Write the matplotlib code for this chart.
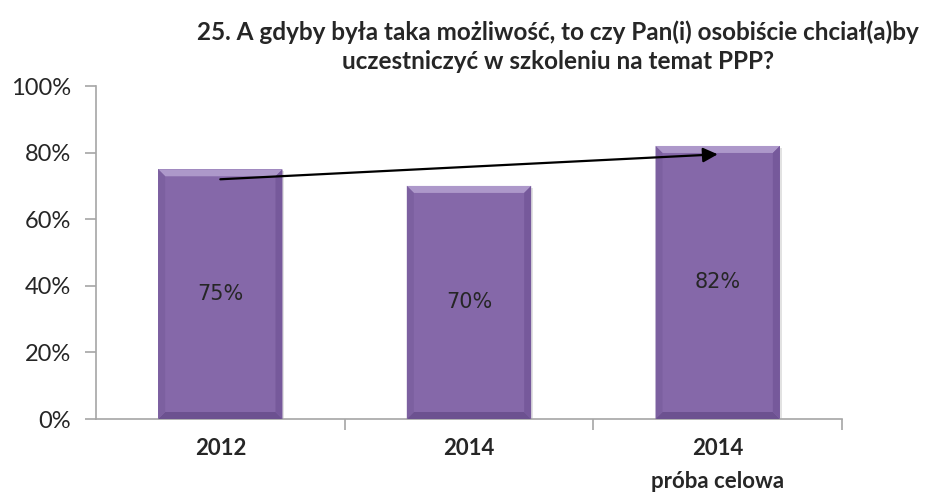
import matplotlib.pyplot as plt
from matplotlib.patches import Polygon
from matplotlib.ticker import FixedLocator, PercentFormatter
from matplotlib.transforms import IdentityTransform

categories = ["2012", "2014", "2014\npróba celowa"]
values = [75, 70, 82]
value_labels = ["75%", "70%", "82%"]
y_ticks = [0, 20, 40, 60, 80, 100]
title = ("25. A gdyby była taka możliwość, to czy Pan(i) osobiście chciał(a)by\n"
         "uczestniczyć w szkoleniu na temat PPP?")
# trend arrow: from first bar to last bar
arrow_start = (0, 72)
arrow_end = (2, 79.5)

BAR = "#8568a9"
LIGHT = "#ad98ca"
DARK = "#6c5190"
GRAY = "#a6a6a6"

fig = plt.figure(figsize=(9.3, 4.95), dpi=100)
ax = fig.add_axes([0.1032, 0.1535, 0.8022, 0.6727])

x = range(len(categories))
bars = ax.bar(x, values, width=0.5, color=BAR, edgecolor="none", zorder=2)
ax.set_xlim(-0.5, len(categories) - 0.5)
ax.set_ylim(0, 100)

for sp in ("top", "right"):
    ax.spines[sp].set_visible(False)
for sp in ("left", "bottom"):
    ax.spines[sp].set_color(GRAY)
    ax.spines[sp].set_linewidth(1.2)

ax.set_yticks(y_ticks)
ax.yaxis.set_major_formatter(PercentFormatter(decimals=0))
ax.tick_params(axis="y", length=8, width=1.2, color=GRAY, pad=10, labelsize=17,
               labelcolor="#262626")
for lab in ax.get_yticklabels():
    lab.set_fontfamily("Lato")

ax.set_xticks(list(x))
ax.set_xticklabels(categories, fontfamily="Lato", fontweight="bold", fontsize=16,
                   color="#262626", linespacing=1.7)
ax.tick_params(axis="x", which="major", length=0, pad=14)
ax.xaxis.set_minor_locator(FixedLocator([i + 0.5 for i in range(len(categories))]))
ax.tick_params(axis="x", which="minor", length=8, width=1.2, color=GRAY)

for i, v in enumerate(values):
    ax.text(i, v / 2, value_labels[i], ha="center", va="center", fontsize=15,
            color="#262626", zorder=5)

# bevel effect drawn in pixel space around each bar
fig.canvas.draw()
b = 7
for p in bars:
    (x0, y0), (x1, y1) = ax.transData.transform(
        [(p.get_x(), p.get_y()), (p.get_x() + p.get_width(), p.get_y() + p.get_height())])
    polys = [
        ([(x0 + 2, y0), (x1 + 2, y0), (x1 + 2, y1 - 2), (x0 + 2, y1 - 2)], "#e2e2e2", 1),
        ([(x0, y1), (x1, y1), (x1 - b, y1 - b), (x0 + b, y1 - b)], LIGHT, 3),
        ([(x0, y0), (x1, y0), (x1 - b, y0 + b), (x0 + b, y0 + b)], DARK, 3),
        ([(x0, y0), (x0, y1), (x0 + b, y1 - b), (x0 + b, y0 + b)], "#7c60a0", 3),
        ([(x1, y0), (x1, y1), (x1 - b, y1 - b), (x1 - b, y0 + b)], "#76599b", 3),
    ]
    for pts, col, z in polys:
        ax.add_patch(Polygon(pts, closed=True, transform=IdentityTransform(),
                             facecolor=col, edgecolor="none", zorder=z, clip_on=False))

ax.annotate("", xy=arrow_end, xytext=arrow_start,
            arrowprops=dict(arrowstyle="-|>", mutation_scale=22, lw=1.6, color="black",
                            shrinkA=0, shrinkB=0), zorder=6)

fig.text(0.6, 0.905, title, ha="center", va="center", fontfamily="Lato",
         fontweight="bold", fontsize=17.5, color="#262626", linespacing=1.3)

fig.savefig("out.png", dpi=100)
